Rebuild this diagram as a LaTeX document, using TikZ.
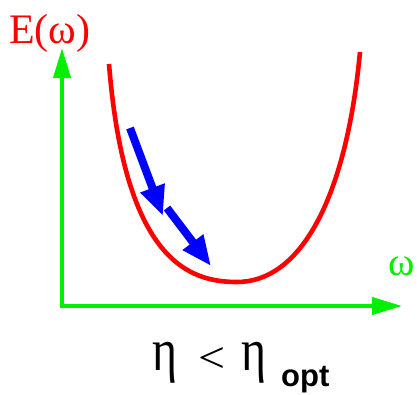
\documentclass[tikz,border=0pt]{standalone}
\usepackage{fontspec}
\setmainfont{Liberation Serif}
\newfontfamily\lsans{Liberation Sans}
\usetikzlibrary{arrows.meta}
\definecolor{axgreen}{RGB}{0,240,0}
\tikzset{
  axis/.style={axgreen, line width=4pt, -{Triangle[length=30pt,width=17pt]}},
  stepArrow/.style={blue, line width=8pt, -{Triangle[length=30pt,width=24pt]}},
  curve/.style={red, line width=4.6pt},
  big/.style={font=\fontsize{48}{48}\selectfont, inner sep=0}
}
\begin{document}
\begin{tikzpicture}[x=1pt,y=-1pt]
\useasboundingbox (0,0) rectangle (417,394);
\coordinate (o) at (62,306);
\coordinate (ytop) at (62,48);
\coordinate (xend) at (402,306);
\draw[axis] (o) -- (ytop);
\draw[axis] (60,306) -- (xend);
\draw[curve] (109,64) .. controls (125,262) and (190,282) .. (237,282)
  .. controls (300,282) and (346,200) .. (360,52);
\coordinate (a1) at (130,128);
\coordinate (a1e) at (163,216);
\coordinate (a2) at (167,208);
\coordinate (a2e) at (211,266);
\draw[stepArrow] (a1) -- (a1e);
\draw[stepArrow] (a2) -- (a2e);
\node[red, font=\fontsize{42}{42}\selectfont, anchor=base west, inner sep=0] (ylab) at (9,43) {E(ω)};
\node[axgreen, font=\fontsize{40}{40}\selectfont, anchor=base west, inner sep=0] (xlab) at (388,275) {ω};
\node[big, anchor=center] (eta1) at (165,362.5) {\resizebox*{25pt}{41pt}{η}};
\node[big, anchor=center, font=\fontsize{52}{52}\selectfont] (lt) at (211.5,359.5) {\resizebox*{27pt}{25pt}{<}};
\node[big, anchor=center] (eta2) at (253.5,362.5) {\resizebox*{25pt}{41pt}{η}};
\node[anchor=base west, inner sep=0, font=\lsans\bfseries\fontsize{31}{31}\selectfont] (opt) at (281,386) {opt};
\end{tikzpicture}
\end{document}
